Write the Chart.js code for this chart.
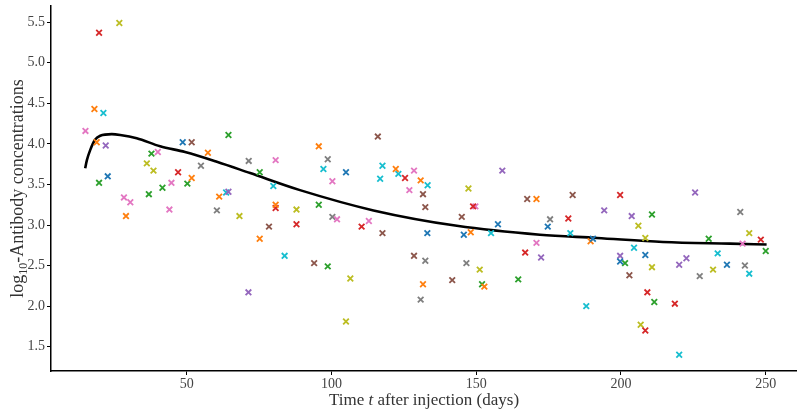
<!DOCTYPE html>
<html>
<head>
<meta charset="utf-8">
<script src="https://cdn.jsdelivr.net/npm/chart.js@4/dist/chart.umd.min.js"></script>
<style>
  html, body { margin: 0; padding: 0; background: #fff; }
  #wrap { width: 797px; height: 410px; }
</style>
</head>
<body>
<div id="wrap"><canvas id="c" width="797" height="410"></canvas></div>
<script>
// Antibody measurements (log10 scale) per subject group, days after injection
const blueDays   = [22.7, 48.6, 105.0, 133.1, 145.7, 157.5, 174.7, 190.3, 199.7, 208.4, 236.6];
const blueVals   = [3.60, 4.02, 3.65, 2.90, 2.88, 3.01, 2.98, 2.83, 2.55, 2.63, 2.51];

const orangeDays = [18.1, 18.9, 29.0, 51.7, 57.3, 61.2, 75.2, 80.7, 95.6, 122.2, 130.8, 131.6, 148.1, 152.8, 170.8, 189.5];
const orangeVals = [4.43, 4.02, 3.11, 3.58, 3.89, 3.35, 2.83, 3.25, 3.97, 3.69, 3.55, 2.27, 2.91, 2.24, 3.32, 2.80];

const greenDays  = [19.7, 36.9, 37.8, 41.6, 50.2, 64.4, 75.2, 95.6, 98.7, 152.0, 164.5, 201.4, 210.7, 211.5, 230.3, 250.0];
const greenVals  = [3.52, 3.38, 3.88, 3.46, 3.51, 4.11, 3.65, 3.25, 2.49, 2.27, 2.33, 2.53, 3.13, 2.05, 2.83, 2.68];

const redDays    = [19.7, 47.0, 80.7, 87.9, 110.4, 125.4, 148.9, 166.9, 181.8, 199.7, 208.4, 209.1, 218.6, 248.3];
const redVals    = [5.37, 3.65, 3.21, 3.01, 2.98, 3.58, 3.23, 2.66, 3.08, 3.37, 1.70, 2.17, 2.03, 2.82];

const purpleDays = [22.0, 64.4, 71.3, 159.0, 172.4, 194.2, 199.7, 203.7, 220.1, 222.6, 225.6];
const purpleVals = [3.98, 3.41, 2.17, 3.67, 2.60, 3.18, 2.62, 3.11, 2.51, 2.59, 3.40];

const brownDays  = [51.7, 78.4, 94.0, 116.0, 117.6, 128.5, 131.6, 132.4, 141.7, 145.0, 167.6, 183.3, 202.9];
const brownVals  = [4.02, 2.98, 2.53, 4.09, 2.90, 2.62, 3.38, 3.22, 2.32, 3.10, 3.32, 3.37, 2.38];

const pinkDays   = [15.0, 28.3, 30.5, 40.0, 44.0, 44.7, 80.7, 100.3, 101.9, 112.9, 126.9, 128.5, 149.7, 170.8, 242.0];
const pinkVals   = [4.16, 3.34, 3.28, 3.90, 3.19, 3.52, 3.80, 3.54, 3.07, 3.05, 3.43, 3.67, 3.23, 2.78, 2.77];

const grayDays   = [54.9, 60.4, 71.4, 98.7, 100.3, 130.8, 132.4, 146.6, 175.5, 227.2, 241.2, 242.8];
const grayVals   = [3.73, 3.18, 3.79, 3.81, 3.10, 2.08, 2.56, 2.53, 3.07, 2.37, 3.16, 2.50];

const oliveDays  = [26.7, 36.2, 38.5, 68.2, 87.9, 105.0, 106.5, 147.3, 151.2, 206.0, 206.8, 208.4, 210.7, 231.8, 244.3];
const oliveVals  = [5.49, 3.76, 3.67, 3.11, 3.19, 1.81, 2.34, 3.45, 2.45, 2.99, 1.77, 2.84, 2.48, 2.45, 2.90];

const cyanDays   = [21.2, 63.6, 79.9, 83.8, 97.2, 116.8, 117.6, 123.1, 133.2, 155.1, 182.5, 188.0, 204.5, 220.1, 233.4, 244.3];
const cyanVals   = [4.38, 3.40, 3.48, 2.62, 3.69, 3.57, 3.73, 3.63, 3.49, 2.90, 2.90, 2.00, 2.72, 1.40, 2.65, 2.40];

// Fitted mean antibody curve
const fitDays = [14.9, 15.5, 16.6, 18.3, 20.1, 24.1, 27.0, 32.7, 40.8, 49.4, 60.4, 71.9, 89.1, 114.5, 143.3, 172.0, 191.7, 214.5, 237.6, 250.3];
const fitVals = [3.70, 3.80, 3.92, 4.05, 4.10, 4.12, 4.11, 4.07, 3.97, 3.90, 3.78, 3.64, 3.43, 3.18, 2.99, 2.88, 2.84, 2.79, 2.77, 2.76];

// Axis ticks
const xTicks = [50, 100, 150, 200, 250];
const yTicks = [1.5, 2.0, 2.5, 3.0, 3.5, 4.0, 4.5, 5.0, 5.5];

const groups = [
  [blueDays, blueVals, '#1f77b4'],
  [orangeDays, orangeVals, '#ff7f0e'],
  [greenDays, greenVals, '#2ca02c'],
  [redDays, redVals, '#d62728'],
  [purpleDays, purpleVals, '#9467bd'],
  [brownDays, brownVals, '#8c564b'],
  [pinkDays, pinkVals, '#e377c2'],
  [grayDays, grayVals, '#7f7f7f'],
  [oliveDays, oliveVals, '#bcbd22'],
  [cyanDays, cyanVals, '#17becf']
];

const zip = (xs, ys) => xs.map((x, i) => ({ x: x, y: ys[i] }));

const datasets = groups.map(([xs, ys, col]) => ({
  type: 'scatter',
  data: zip(xs, ys),
  pointStyle: 'crossRot',
  pointRadius: 4,
  pointBorderWidth: 1.8,
  borderColor: col,
  backgroundColor: col,
  order: 0
}));

datasets.push({
  type: 'line',
  data: zip(fitDays, fitVals),
  borderColor: '#000',
  borderWidth: 2.6,
  pointRadius: 0,
  fill: false,
  cubicInterpolationMode: 'monotone',
  order: 1
});

const serif = '"Liberation Serif", "DejaVu Serif", serif';

// Axis titles with italic variable and subscript
const axisTitles = {
  id: 'axisTitles',
  afterDraw(chart) {
    const ctx = chart.ctx;
    const a = chart.chartArea;
    ctx.save();
    ctx.fillStyle = '#333';
    ctx.textBaseline = 'alphabetic';
    ctx.textAlign = 'left';

    const drawRun = (parts, cx, cy) => {
      let w = 0;
      parts.forEach(p => { ctx.font = p.font; w += ctx.measureText(p.t).width; });
      let x = cx - w / 2;
      parts.forEach(p => {
        ctx.font = p.font;
        ctx.fillText(p.t, x, cy + (p.dy || 0));
        x += ctx.measureText(p.t).width;
      });
    };

    const base = '17px ' + serif;
    drawRun([
      { t: 'Time ', font: base },
      { t: 't', font: 'italic 17px ' + serif },
      { t: ' after injection (days)', font: base }
    ], (a.left + a.right) / 2, chart.height - 5);

    ctx.translate(23, (a.top + a.bottom) / 2);
    ctx.rotate(-Math.PI / 2);
    drawRun([
      { t: 'log', font: '18px ' + serif },
      { t: '10', font: '12px ' + serif, dy: 4 },
      { t: '-Antibody concentrations', font: '18px ' + serif }
    ], 0, 0);
    ctx.restore();
  }
};

new Chart(document.getElementById('c'), {
  data: { datasets: datasets },
  plugins: [axisTitles],
  options: {
    responsive: false,
    animation: false,
    layout: { autoPadding: false, padding: { top: 6, right: 0, left: 0, bottom: 0 } },
    plugins: { legend: { display: false }, tooltip: { enabled: false } },
    scales: {
      x: {
        type: 'linear',
        min: 3.1,
        max: 260.8,
        afterBuildTicks: s => { s.ticks = xTicks.map(v => ({ value: v })); },
        afterFit: s => { s.height = 39; s.paddingLeft = 0; s.paddingRight = 0; },
        grid: { drawOnChartArea: false, drawTicks: true, tickLength: 4, color: '#000', lineWidth: 1 },
        border: { display: true, color: '#000', width: 1.5 },
        ticks: { color: '#444', font: { family: serif, size: 14 }, padding: 1, maxRotation: 0 }
      },
      y: {
        type: 'linear',
        min: 1.2,
        max: 5.7,
        afterBuildTicks: s => { s.ticks = yTicks.map(v => ({ value: v })); },
        afterFit: s => { s.width = 51; s.paddingTop = 0; s.paddingBottom = 0; },
        grid: { drawOnChartArea: false, drawTicks: true, tickLength: 4, color: '#000', lineWidth: 1 },
        border: { display: true, color: '#000', width: 1.5 },
        ticks: { color: '#444', font: { family: serif, size: 14 }, padding: 2, callback: v => v.toFixed(1) }
      }
    }
  }
});
</script>
</body>
</html>
